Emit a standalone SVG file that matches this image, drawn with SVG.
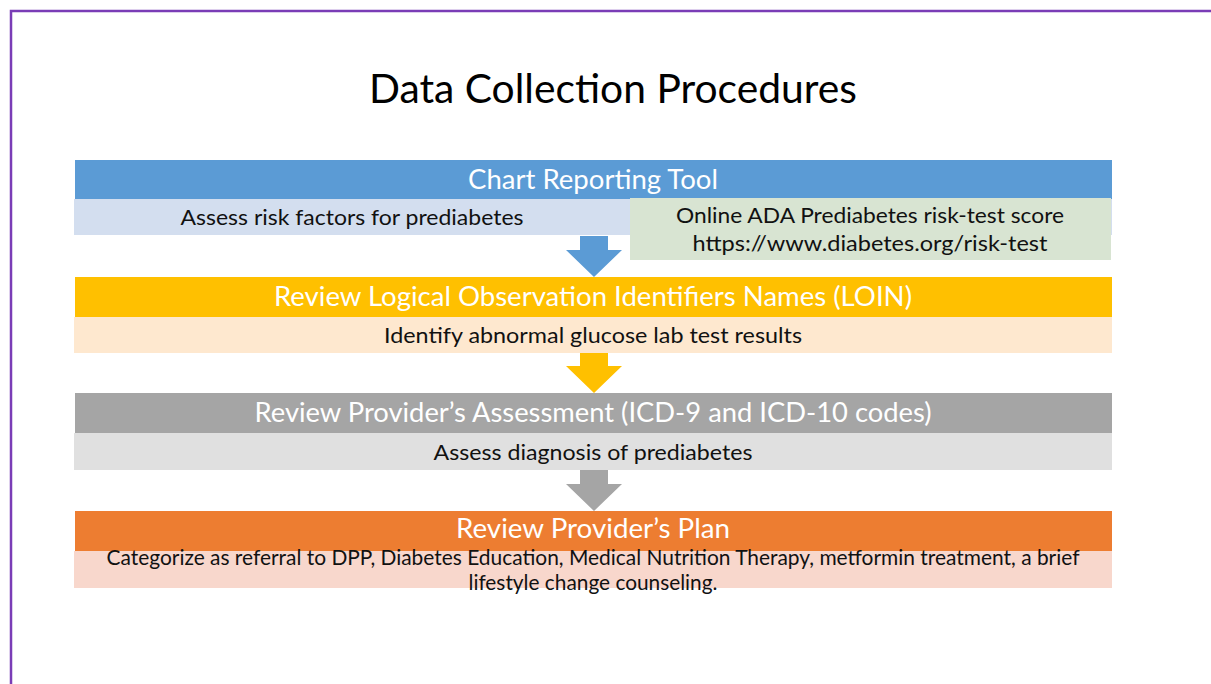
<svg xmlns="http://www.w3.org/2000/svg" width="1211" height="684" viewBox="0 0 1211 684">
  <defs>
    <style>
      .t { font-family: Lato, "Open Sans", "Liberation Sans", sans-serif; text-anchor: middle; }
      .title { font-size: 41px; fill: #000; }
      .head { font-size: 27px; fill: #fff; }
      .sub { font-size: 22px; fill: #111; }
      .tight { font-size: 21px; }
    </style>
  </defs>
  <rect x="0" y="0" width="1211" height="684" fill="#fff"/>
  <!-- slide frame -->
  <path d="M11 690 V11 H1215" fill="none" stroke="#7a3db6" stroke-width="2.5"/>

  <text class="t title" x="613" y="103" textLength="488" lengthAdjust="spacingAndGlyphs">Data Collection Procedures</text>

  <g id="chart-reporting">
    <rect x="75" y="160" width="1037" height="39" fill="#5b9bd5"/>
    <rect x="74" y="199" width="1038" height="36" fill="#d3deef"/>
    <text class="t head" x="593" y="189" textLength="250" lengthAdjust="spacingAndGlyphs">Chart Reporting Tool</text>
    <text class="t sub" x="352" y="225" textLength="343" lengthAdjust="spacingAndGlyphs">Assess risk factors for prediabetes</text>
  </g>

  <g id="ada-risk-test">
    <rect x="630" y="198" width="481" height="62" fill="#d8e4d2"/>
    <text class="t sub" x="870" y="223" textLength="388" lengthAdjust="spacingAndGlyphs">Online ADA Prediabetes risk-test score</text>
    <text class="t sub" x="870" y="251" textLength="355" lengthAdjust="spacingAndGlyphs">https://www.diabetes.org/risk-test</text>
  </g>

  <g id="loin-review">
    <rect x="75" y="277" width="1037" height="40" fill="#ffc000"/>
    <rect x="74" y="317" width="1038" height="36" fill="#fee8cf"/>
    <text class="t head" x="593" y="306" textLength="638" lengthAdjust="spacingAndGlyphs">Review Logical Observation Identifiers Names (LOIN)</text>
    <text class="t sub" x="593" y="343" textLength="418" lengthAdjust="spacingAndGlyphs">Identify abnormal glucose lab test results</text>
  </g>

  <g id="assessment-review">
    <rect x="75" y="393" width="1037" height="40" fill="#a5a5a5"/>
    <rect x="74" y="433" width="1038" height="37" fill="#e0e0e0"/>
    <text class="t head" x="593" y="422" textLength="677" lengthAdjust="spacingAndGlyphs">Review Provider’s Assessment (ICD-9 and ICD-10 codes)</text>
    <text class="t sub" x="593" y="460" textLength="319" lengthAdjust="spacingAndGlyphs">Assess diagnosis of prediabetes</text>
  </g>

  <g id="plan-review">
    <rect x="75" y="511" width="1037" height="40" fill="#ed7d31"/>
    <rect x="74" y="551" width="1038" height="37" fill="#f8d7cc"/>
    <text class="t head" x="593" y="538" textLength="274" lengthAdjust="spacingAndGlyphs">Review Provider’s Plan</text>
    <text class="t sub tight" x="593" y="565" textLength="973" lengthAdjust="spacingAndGlyphs">Categorize as referral to DPP, Diabetes Education, Medical Nutrition Therapy, metformin treatment, a brief</text>
    <text class="t sub tight" x="593" y="590" textLength="249" lengthAdjust="spacingAndGlyphs">lifestyle change counseling.</text>
  </g>

  <g id="connectors">
    <polygon points="580,236 608,236 608,250 622,250 594,277 566,250 580,250" fill="#5b9bd5"/>
    <polygon points="580,353 608,353 608,366 622,366 594,393 566,366 580,366" fill="#ffc000"/>
    <polygon points="580,470 608,470 608,484 622,484 594,511 566,484 580,484" fill="#a5a5a5"/>
  </g>
</svg>
